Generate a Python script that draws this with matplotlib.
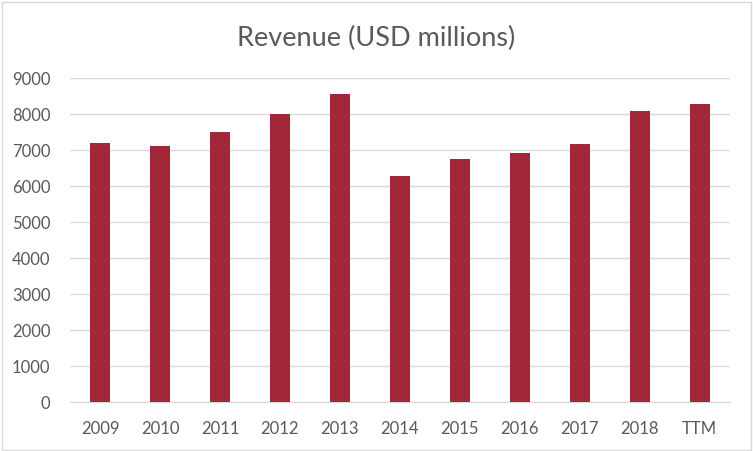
import numpy as np
import matplotlib.pyplot as plt
from matplotlib.patches import Rectangle

# Revenue data
years = ['2009', '2010', '2011', '2012', '2013', '2014', '2015', '2016', '2017', '2018', 'TTM']
revenue = [7200, 7120, 7510, 8010, 8560, 6290, 6760, 6925, 7175, 8090, 8290]

bar_color = '#A12838'
grid_color = '#D9D9D9'
text_color = '#595959'

plt.rcParams['font.family'] = ['Lato', 'DejaVu Sans']

fig = plt.figure(figsize=(7.53, 4.51), dpi=100)
ax = fig.add_axes([0.093, 0.1086, 0.876, 0.7184])

x = np.arange(len(years))
ax.bar(x, revenue, width=0.33, color=bar_color, zorder=3)

ax.set_xlim(-0.5, len(years) - 0.5)
ax.set_ylim(0, 9000)
ax.set_yticks(np.arange(0, 9001, 1000))
ax.set_xticks(x)
ax.set_xticklabels(years)

ax.grid(axis='y', color=grid_color, linewidth=1, zorder=0)
for side in ['top', 'right', 'left']:
    ax.spines[side].set_visible(False)
ax.spines['bottom'].set_color(grid_color)
ax.tick_params(axis='both', length=0, labelsize=12, colors=text_color)
ax.tick_params(axis='x', pad=14)
ax.tick_params(axis='y', pad=14)

fig.text(0.5, 0.915, 'Revenue (USD millions)', ha='center', va='center',
         fontsize=19.5, color=text_color)

# chart border
fig.patches.append(Rectangle((0.002, 0.003), 0.995, 0.993, transform=fig.transFigure,
                             fill=False, edgecolor=grid_color, linewidth=1))

fig.savefig('out.png', dpi=100)
